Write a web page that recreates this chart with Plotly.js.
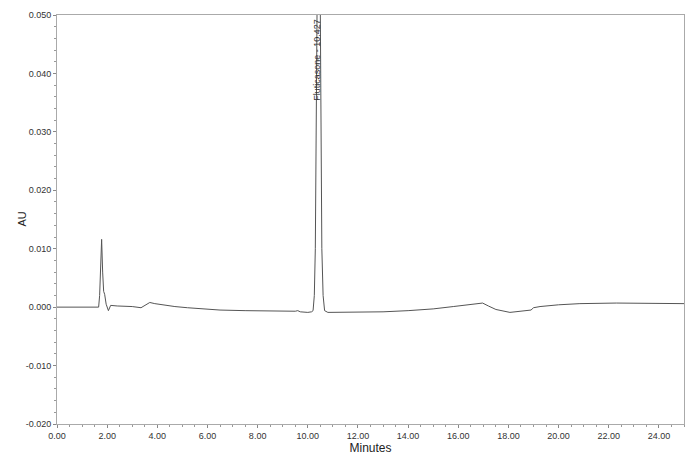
<!DOCTYPE html>
<html>
<head>
<meta charset="utf-8">
<script src="https://cdn.plot.ly/plotly-3.0.1.min.js"></script>
<style>html,body{margin:0;padding:0;background:#fff;}#chart{width:698px;height:457px;}</style>
</head>
<body>
<div id="chart"></div>
<script>
// Retention time (minutes)
const timeMin = [0, 1.66, 1.70, 1.74, 1.78, 1.82, 1.86, 1.90, 1.96, 2.05, 2.14, 2.4, 3.0, 3.35, 3.5, 3.7, 3.9, 4.3, 4.7, 5.2, 5.8, 6.5, 7.5, 8.5, 9.3, 9.5, 9.6, 9.7, 10.0, 10.15, 10.21, 10.26, 10.30, 10.33, 10.36, 10.427, 10.50, 10.53, 10.56, 10.61, 10.67, 10.8, 11.2, 12, 13, 14, 15, 15.8, 16.5, 16.97, 17.2, 17.5, 18.06, 18.6, 18.9, 19.0, 19.26, 20, 20.85, 22.3, 23.5, 25];
// Absorbance (AU)
const absAU = [0, 0, 0.002, 0.0075, 0.0116, 0.006, 0.0027, 0.0022, 0.0005, -0.0006, 0.0003, 0.0002, 0.0001, -0.0001, 0.0003, 0.0008, 0.0006, 0.0003, 0.0001, -0.0001, -0.0003, -0.0005, -0.0006, -0.0007, -0.0008, -0.0007, -0.0006, -0.0008, -0.0009, -0.0008, -0.0006, 0.002, 0.010, 0.030, 0.050, 0.085, 0.050, 0.030, 0.010, 0.002, -0.0006, -0.0009, -0.0009, -0.0009, -0.0008, -0.0006, -0.0003, 0.0001, 0.0004, 0.0007, 0.0002, -0.0004, -0.0009, -0.0007, -0.0005, -0.0001, 0.0001, 0.0004, 0.0006, 0.0007, 0.0007, 0.0006];

const xTickVals = [0, 2, 4, 6, 8, 10, 12, 14, 16, 18, 20, 22, 24];
const xTickText = ["0.00", "2.00", "4.00", "6.00", "8.00", "10.00", "12.00", "14.00", "16.00", "18.00", "20.00", "22.00", "24.00"];
const yTickVals = [-0.02, -0.01, 0, 0.01, 0.02, 0.03, 0.04, 0.05];
const yTickText = ["-0.020", "-0.010", "0.000", "0.010", "0.020", "0.030", "0.040", "0.050"];

const peakName = "Fluticasone - 10.427";
const peakTime = 10.37;
const yTitle = "AU";

const tickFont = {family: "Liberation Sans Narrow, Liberation Sans, Arial, sans-serif", size: 9, color: "#333"};

const trace = {
  x: timeMin, y: absAU, type: "scatter", mode: "lines",
  line: {color: "#555", width: 1}, hoverinfo: "skip"
};

const layout = {
  width: 698, height: 457,
  margin: {l: 57, r: 14, t: 15, b: 33, pad: 0},
  paper_bgcolor: "#fff", plot_bgcolor: "#fff",
  showlegend: false,
  xaxis: {
    range: [0, 25], tickmode: "array", tickvals: xTickVals, ticktext: xTickText,
    showgrid: false, zeroline: false, showline: true, linecolor: "#aaa", linewidth: 1, mirror: true,
    ticks: "outside", ticklen: 3, tickcolor: "#888", tickfont: tickFont,
    minor: {dtick: 0.5, tick0: 0, ticks: "outside", ticklen: 2, tickcolor: "#999", showgrid: false},
    title: {text: "Minutes", font: {family: "Liberation Sans Narrow, Liberation Sans, Arial, sans-serif", size: 12, color: "#222"}, standoff: 2}
  },
  yaxis: {
    range: [-0.02, 0.05], tickmode: "array", tickvals: yTickVals, ticktext: yTickText,
    showgrid: false, zeroline: false, showline: true, linecolor: "#aaa", linewidth: 1, mirror: true,
    ticks: "outside", ticklen: 3, tickcolor: "#888", tickfont: tickFont,
    minor: {dtick: 0.002, tick0: 0, ticks: "outside", ticklen: 2, tickcolor: "#999", showgrid: false}
  },
  annotations: [{
    x: peakTime, y: 0.0497, xref: "x", yref: "y", text: peakName, textangle: -90,
    showarrow: false, xanchor: "center", yanchor: "top",
    font: {family: "Liberation Sans Narrow, Liberation Sans, Arial, sans-serif", size: 9, color: "#333"}
  }, {
    x: 0, y: 0.5, xref: "paper", yref: "paper", text: yTitle, textangle: -90,
    showarrow: false, xanchor: "center", yanchor: "middle", xshift: -36,
    font: {family: "Liberation Sans, Arial, sans-serif", size: 11, color: "#222"}
  }]
};

Plotly.newPlot("chart", [trace], layout, {displayModeBar: false, staticPlot: true});
</script>
</body>
</html>
